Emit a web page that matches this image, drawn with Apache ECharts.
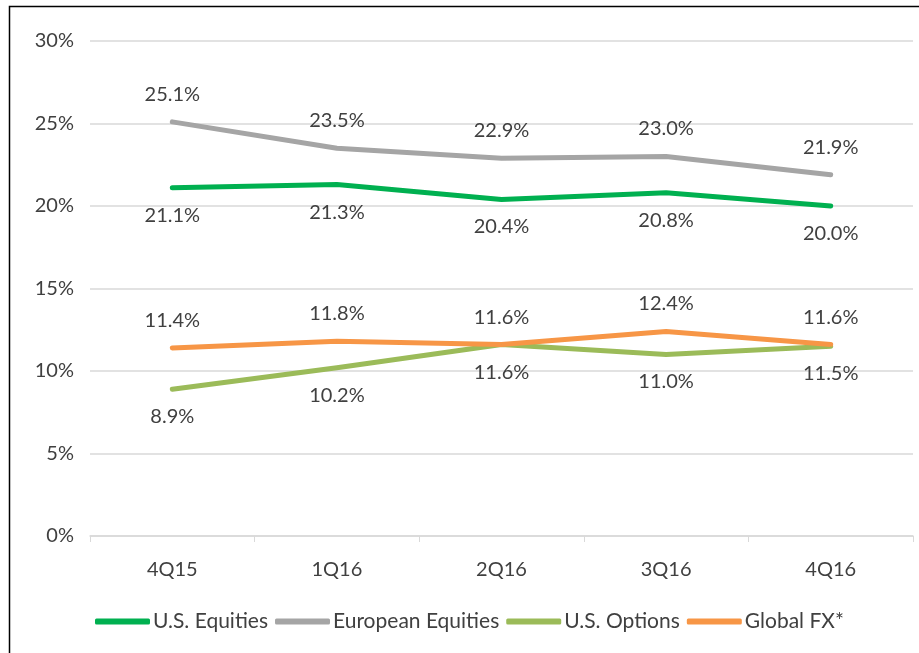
<!DOCTYPE html>
<html><head><meta charset="utf-8">
<script src="https://cdn.jsdelivr.net/npm/echarts@6/dist/echarts.min.js"></script>
<style>html,body{margin:0;padding:0;background:#fff}#c{width:919px;height:653px}</style>
</head><body><div id="c"></div>
<script>
const categories = ['4Q15','1Q16','2Q16','3Q16','4Q16'];
const usEquities = [21.1, 21.3, 20.4, 20.8, 20.0];
const euEquities = [25.1, 23.5, 22.9, 23.0, 21.9];
const usOptions = [8.9, 10.2, 11.6, 11.0, 11.5];
const globalFX = [11.4, 11.8, 11.6, 12.4, 11.6];
const yTicks = [0, 5, 10, 15, 20, 25, 30];

const FONT = 'Lato';
const FS = 20;
const TXT = '#404040';
function mk(name, data, color, pos) {
  return {
    name, type: 'line', data, symbol: 'circle', symbolSize: 1, showSymbol: true, smooth: false,
    lineStyle: { color, width: 5, cap: 'round', join: 'round' },
    itemStyle: { color },
    label: { show: true, position: pos, distance: 17, color: TXT, fontFamily: FONT, fontSize: FS,
      formatter: p => p.value.toFixed(1) + '%' }
  };
}
const chart = echarts.init(document.getElementById('c'));
chart.setOption({
  animation: false,
  graphic: [{ type: 'rect', shape: { x: 9.5, y: 6.5, width: 1200, height: 1200 },
    style: { fill: 'none', stroke: '#000', lineWidth: 1.5 }, silent: true }],
  grid: { left: 90, right: 6, top: 41, bottom: 117 },
  legend: {
    top: 606, left: 90, itemWidth: 55, itemHeight: 6, itemGap: 7, icon: 'roundRect',
    textStyle: { color: TXT, fontFamily: FONT, fontSize: 21, padding: [0, 0, 0, -2] },
    data: ['U.S. Equities', 'European Equities', 'U.S. Options', 'Global FX*']
  },
  xAxis: {
    type: 'category', data: categories, boundaryGap: true,
    axisLine: { lineStyle: { color: '#d9d9d9', width: 1.5 } },
    axisTick: { show: true, length: 6, lineStyle: { color: '#d9d9d9' } },
    axisLabel: { color: TXT, fontFamily: FONT, fontSize: FS, margin: 24 }
  },
  yAxis: {
    type: 'value', min: 0, max: 30, interval: 5,
    axisLine: { show: false }, axisTick: { show: false },
    splitLine: { lineStyle: { color: '#d9d9d9', width: 1.5 } },
    axisLabel: { color: TXT, fontFamily: FONT, fontSize: FS, margin: 16, formatter: v => v + '%' }
  },
  series: [
    mk('U.S. Equities', usEquities, '#00B050', 'bottom'),
    mk('European Equities', euEquities, '#A5A5A5', 'top'),
    mk('U.S. Options', usOptions, '#9BBB59', 'bottom'),
    mk('Global FX*', globalFX, '#F79646', 'top')
  ]
});
</script></body></html>
